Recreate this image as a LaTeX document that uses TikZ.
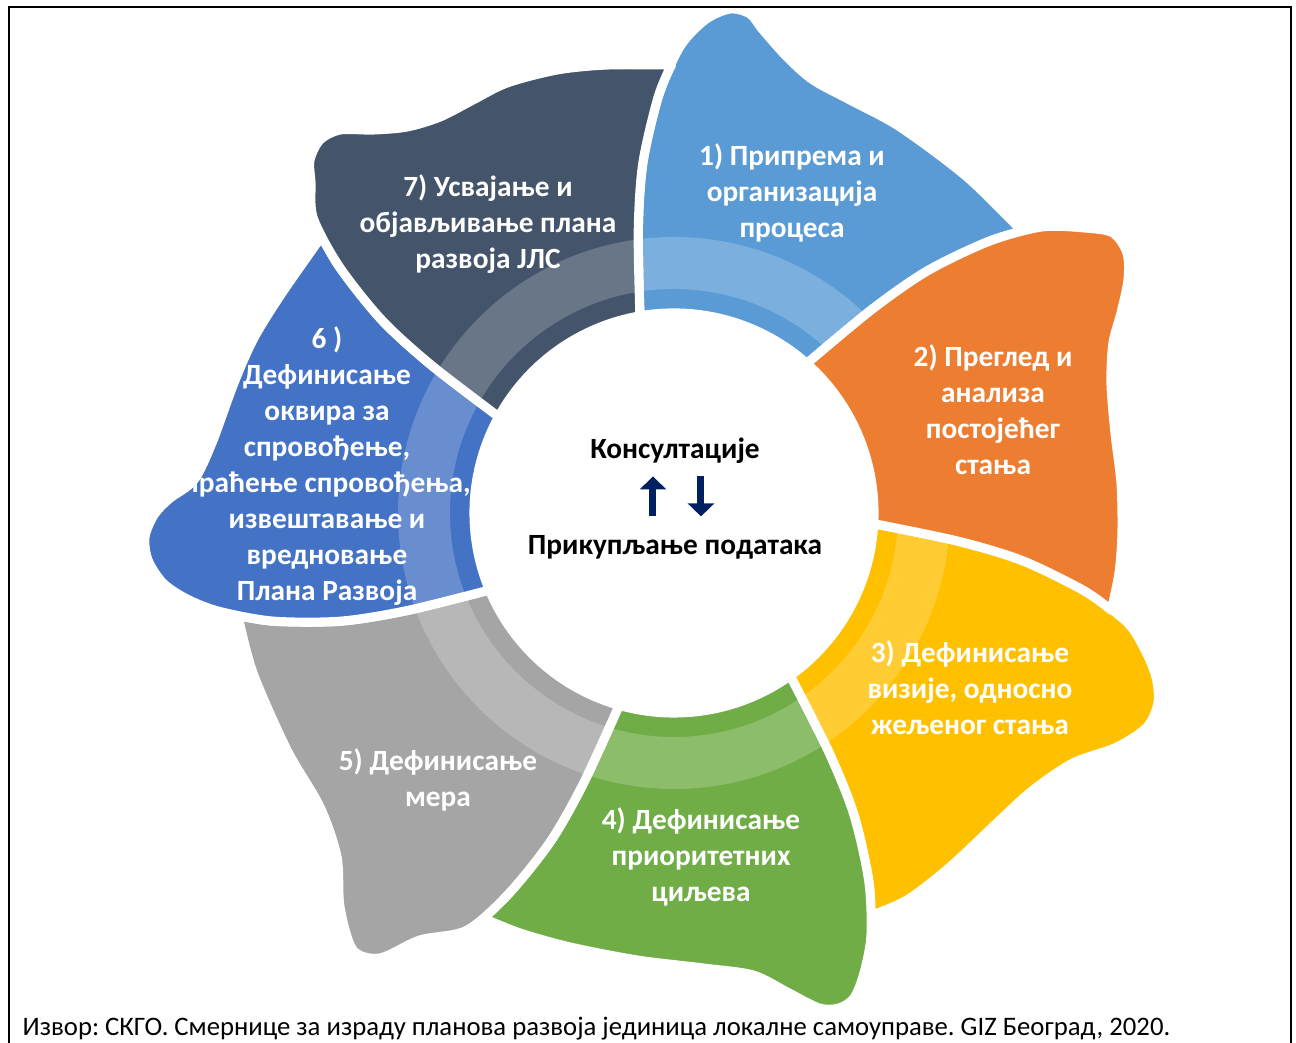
\documentclass[tikz,border=0pt]{standalone}
\usepackage{fontspec}
\setmainfont{Carlito}
\usetikzlibrary{arrows.meta}
\definecolor{cBlue}{HTML}{5B9BD5}
\definecolor{cOrange}{HTML}{ED7D31}
\definecolor{cGold}{HTML}{FFC000}
\definecolor{cGreen}{HTML}{70AD47}
\definecolor{cGray}{HTML}{A5A5A5}
\definecolor{cRoyal}{HTML}{4472C4}
\definecolor{cSlate}{HTML}{44546A}
\definecolor{cNavy}{HTML}{002060}
\frenchspacing

\begin{document}
\begin{tikzpicture}[
  petal/.style={draw=white,line width=2.6pt,line join=round},
  lbl/.style={text=white,font=\fontsize{8.35}{10.25}\selectfont\bfseries,align=center,inner sep=0pt},
  mid/.style={font=\fontsize{8.35}{10.25}\selectfont\bfseries,inner sep=0pt},
  updown/.style={-{Triangle[width=0.26cm,length=0.13cm]},line width=0.07cm,cNavy}]
\useasboundingbox (-6.74,-5.30) rectangle (6.22,5.13);
% one petal: offset angle, colour, outer rim points
\def\petal#1#2#3{%
  \filldraw[petal,fill=#2] ({#1+99.8}:2)
    -- plot[smooth] coordinates {({#1+99.8}:2) ({#1+97.2}:2.85) ({#1+95.1}:3.51) ({#1+92.2}:4.16) ({#1+89.3}:4.66) #3 ({#1+38.9}:4.48)}
    -- plot[smooth] coordinates {({#1+38.9}:4.48) ({#1+40.77}:4.16) ({#1+43.67}:3.51) ({#1+45.77}:2.85) ({#1+48.37}:2)}
    arc[start angle={#1+48.37},end angle={#1+99.8},radius=2] -- cycle;}

\petal{0}{cBlue}{(0.31,4.93) (0.56,5.04) (0.76,4.99) (0.89,4.83) (1.13,4.56) (1.39,4.33) (1.76,4.13) (2.26,3.86) (2.93,3.36)}
\petal{-102.86}{cGold}{(4.71,-1.37) (4.82,-1.64) (4.84,-1.90) (4.73,-2.14) (4.43,-2.34) (3.99,-2.50) (3.59,-2.77) (3.26,-3.07) (2.76,-3.54) (2.33,-3.87)}
\petal{-154.29}{cGreen}{(1.90,-4.60) (1.80,-4.85) (1.65,-4.95) (1.45,-4.95) (1.13,-4.79) (0.79,-4.62) (0.29,-4.55) (-0.37,-4.47) (-1.04,-4.34) (-1.54,-4.20)}
\petal{-205.71}{cGray}{(-2.54,-4.27) (-2.94,-4.45) (-3.21,-4.37) (-3.34,-3.94) (-3.37,-3.44) (-3.54,-2.94) (-3.87,-2.37) (-4.21,-1.60)}
\petal{-257.14}{cRoyal}{(-4.87,-0.86) (-5.11,-0.70) (-5.26,-0.47) (-5.29,-0.24) (-5.20,-0.02) (-5.05,0.14) (-4.80,0.33) (-4.62,0.70) (-4.40,1.30) (-4.20,1.75) (-3.92,2.20)}
\petal{-308.57}{cSlate}{(-3.63,3.30) (-3.64,3.53) (-3.54,3.73) (-3.34,3.83) (-3.01,3.83) (-2.67,3.86) (-2.34,3.96) (-2.01,4.13) (-1.67,4.30) (-1.17,4.43) (-0.67,4.48)}

% light ring, left open over step 2
\fill[white,opacity=0.2,even odd rule] (0,0) circle (2.76) (0,0) circle (2.24);
\petal{-51.43}{cOrange}{(4.11,2.85) (4.39,2.80) (4.53,2.60) (4.54,2.33) (4.47,2.00) (4.39,1.70) (4.37,1.30) (4.41,0.80) (4.47,0.30) (4.48,-0.20) (4.45,-0.60)}

\node[lbl] (s1) at (1.18,3.20) {1) Припрема и\\организација\\процеса};
\node[lbl] (s2) at (3.19,1.03) {2) Преглед и\\анализа\\постојећег\\стања};
\node[lbl] (s3) at (2.96,-1.75) {3) Дефинисање\\визије, односно\\жељеног стања};
\node[lbl] (s4) at (0.27,-3.44) {4) Дефинисање\\приоритетних\\циљева};
\node[lbl] (s5) at (-2.36,-2.67) {5) Дефинисање\\мера};
\node[lbl] (s6) at (-3.47,0.47) {6 )\\Дефинисање\\оквира за\\спровођење,\\праћење спровођења,\\извештавање и\\вредновање\\Плана Развоја};
\node[lbl] (s7) at (-1.86,2.89) {7) Усвајање и\\објављивање плана\\развоја ЈЛС};

\node[mid] (kons) at (0.01,0.62) {Консултације};
\node[mid] (prik) at (0.01,-0.34) {Прикупљање података};
\draw[updown] ([xshift=-0.22cm,yshift=0.18cm]prik.north) -- ([xshift=-0.22cm,yshift=-0.12cm]kons.south);
\draw[updown] ([xshift=0.26cm,yshift=-0.12cm]kons.south) -- ([xshift=0.26cm,yshift=0.18cm]prik.north);

\node[anchor=base west,inner sep=0pt,font=\fontsize{7.6}{9}\selectfont] (src) at (-6.52,-5.23)
  {Извор: СКГО. Смернице за израду планова развоја јединица локалне самоуправе. GIZ Београд, 2020.};
\draw[line width=0.8pt] (-6.65,-5.30) |- (6.17,5.06) -- (6.17,-5.30);
\end{tikzpicture}
\end{document}
